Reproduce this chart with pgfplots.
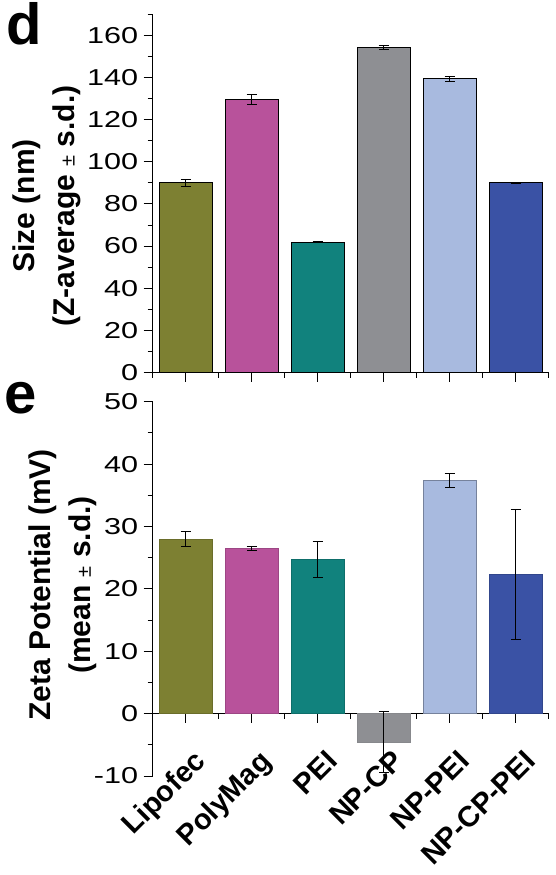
\documentclass[border=0pt]{standalone}
\usepackage{graphicx}
\usepackage{fontspec}
\setmainfont{Liberation Sans}
\usepackage{pgfplots}
\pgfplotsset{compat=1.18}
\definecolor{cA}{RGB}{125,128,50}
\definecolor{cB}{RGB}{184,82,155}
\definecolor{cC}{RGB}{17,130,125}
\definecolor{cD}{RGB}{142,143,147}
\definecolor{cE}{RGB}{168,186,223}
\definecolor{cF}{RGB}{58,82,165}
\pgfplotsset{
  common/.style={
    scale only axis, width=396pt,
    xmin=0.5, xmax=6.5,
    xtick={1,2,3,4,5,6}, minor xtick={0.5,1.5,2.5,3.5,4.5,5.5,6.5},
    tick align=outside, major tick length=9pt, minor tick length=5pt,
    every tick/.style={black, line width=1pt},
    axis line style={line width=1pt, black},
    /pgf/number format/assume math mode=true,
    yticklabel style={font=\fontsize{23}{23}\selectfont, xshift=-2pt},
    yticklabel={\scalebox{1.33}[1]{\pgfmathprintnumber{\tick}}},
    ylabel style={font=\fontsize{30}{40}\selectfont\bfseries, align=center, anchor=center},
    ybar, bar width=52.8pt,
  },
  eb/.style={error bars/.cd, y dir=both, y explicit,
    error bar style={line width=1pt, black},
    error mark options={rotate=90, mark size=5pt, line width=1pt, black}},
}
\begin{document}
\begin{tikzpicture}
\path[use as bounding box] (0,0) rectangle (555pt,-875pt);
\node[anchor=base west, font=\fontsize{58}{58}\selectfont\bfseries, inner sep=0pt] at (6pt,-45pt) {d};
\node[anchor=base west, font=\fontsize{58}{58}\selectfont\bfseries, inner sep=0pt] at (4pt,-413pt) {e};
\begin{axis}[common,
  at={(152.7pt,-372.5pt)}, anchor=south west, height=358.2pt,
  ymin=0, ymax=170,
  axis x line*=bottom, axis y line*=left,
  xticklabels={},
  ytick={0,20,...,160}, minor ytick={10,30,...,170},
  ylabel={Size (nm)\\(Z-average {\fontseries{m}\fontsize{20}{20}\selectfont ±} s.d.)},
  ylabel style={at={(axis description cs:-0.267,0.465)}},
]
\addplot[fill=cA, draw=black, line width=0.8pt, bar shift=0pt, eb] coordinates {(1,90.0) +- (0,1.6)};
\addplot[fill=cB, draw=black, line width=0.8pt, bar shift=0pt, eb] coordinates {(2,129.5) +- (0,2.5)};
\addplot[fill=cC, draw=black, line width=0.8pt, bar shift=0pt, eb] coordinates {(3,61.8) +- (0,0.3)};
\addplot[fill=cD, draw=black, line width=0.8pt, bar shift=0pt, eb] coordinates {(4,154.4) +- (0,1.0)};
\addplot[fill=cE, draw=black, line width=0.8pt, bar shift=0pt, eb] coordinates {(5,139.4) +- (0,1.2)};
\addplot[fill=cF, draw=black, line width=0.8pt, bar shift=0pt, eb] coordinates {(6,90.0) +- (0,0.4)};
\end{axis}
\begin{axis}[common,
  at={(152.7pt,-776pt)}, anchor=south west, height=374.3pt,
  ymin=-10, ymax=50,
  axis x line*=middle, axis y line*=left,
  xticklabels={Lipofec,PolyMag,PEI,NP-CP,NP-PEI,NP-CP-PEI},
  xticklabel style={xshift=16pt, yshift=-35pt, rotate=45, anchor=east,
    inner sep=0pt, text height=21pt, text depth=6pt,
    font=\fontsize{29}{29}\selectfont\bfseries},
  ytick={-10,0,...,50}, minor ytick={-5,5,...,45},
  ylabel={Zeta Potential (mV)\\(mean {\fontseries{m}\fontsize{20}{20}\selectfont ±} s.d.)},
  ylabel style={at={(axis description cs:-0.2265,0.51)}},
]
\addplot[fill=cA, draw=cA!85!black, line width=0.8pt, bar shift=0pt, eb] coordinates {(1,28.0) +- (0,1.25)};
\addplot[fill=cB, draw=cB!85!black, line width=0.8pt, bar shift=0pt, eb] coordinates {(2,26.5) +- (0,0.3)};
\addplot[fill=cC, draw=cC!85!black, line width=0.8pt, bar shift=0pt, eb] coordinates {(3,24.7) +- (0,2.9)};
\addplot[fill=cD, draw=cD!95!black, line width=0.8pt, bar shift=0pt, eb] coordinates {(4,-4.6) +- (0,4.9)};
\addplot[fill=cE, draw=cE!70!black, line width=0.8pt, bar shift=0pt, eb] coordinates {(5,37.4) +- (0,1.1)};
\addplot[fill=cF, draw=cF!85!black, line width=0.8pt, bar shift=0pt, eb] coordinates {(6,22.3) +- (0,10.4)};
\end{axis}
\end{tikzpicture}
\end{document}
